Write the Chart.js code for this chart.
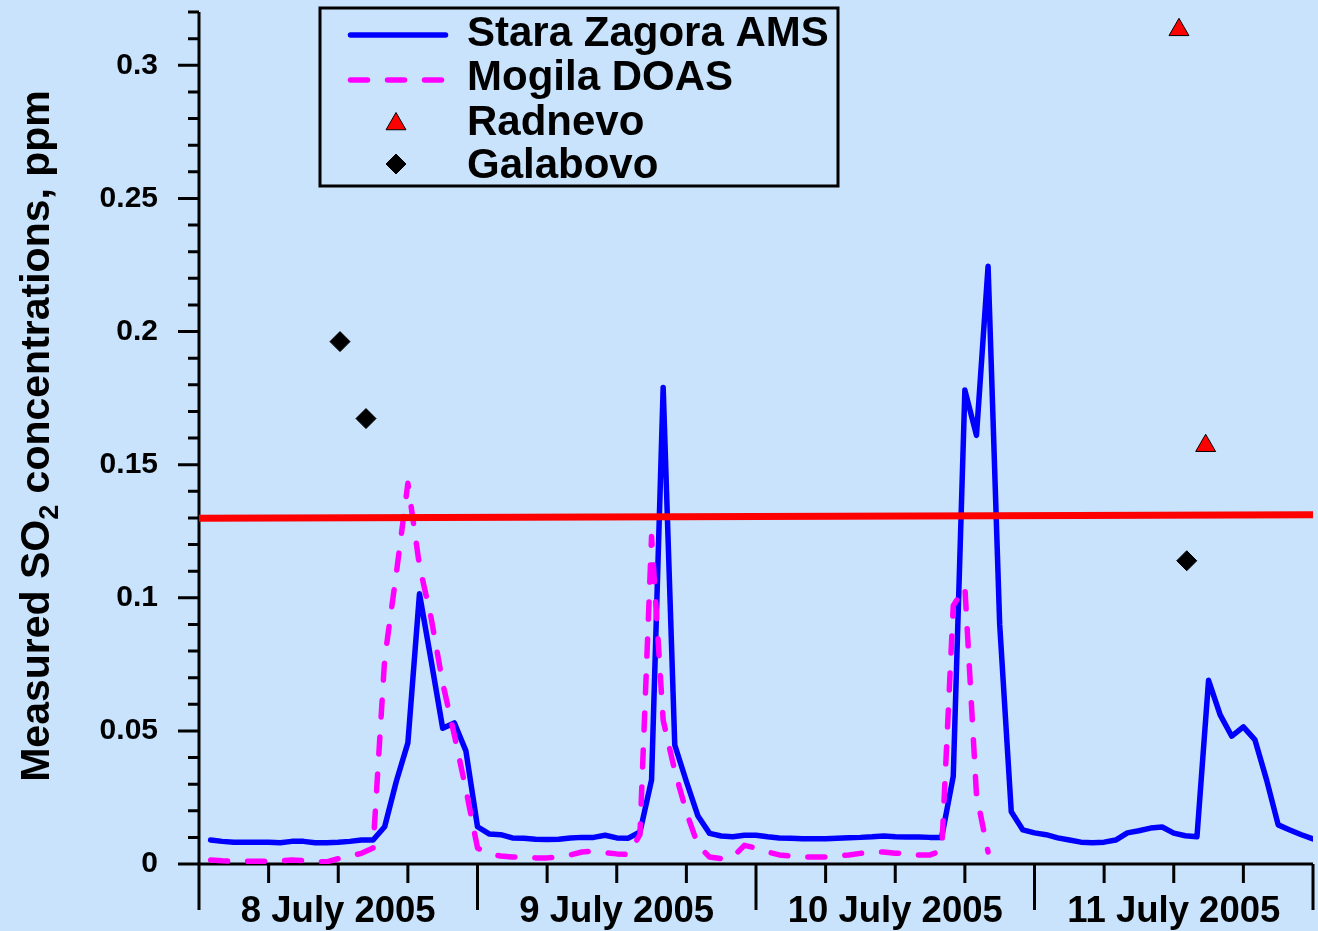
<!DOCTYPE html>
<html>
<head>
<meta charset="utf-8">
<script src="https://cdn.jsdelivr.net/npm/chart.js@4.4.0/dist/chart.umd.min.js"></script>
<style>
  html, body { margin: 0; padding: 0; background: #c9e3fc; overflow: hidden; }
  canvas { display: block; }
</style>
</head>
<body>
<canvas id="grafica" width="1318" height="931"></canvas>
<script>
// hours since 8 July 2005 00:00
const hours = [
  1, 2, 3, 4, 5, 6, 7, 8, 9, 10, 11, 12, 13, 14, 15, 16, 17, 18, 19, 20, 21, 22, 23, 24,
  25, 26, 27, 28, 29, 30, 31, 32, 33, 34, 35, 36, 37, 38, 39, 40, 41, 42, 43, 44, 45, 46, 47, 48,
  49, 50, 51, 52, 53, 54, 55, 56, 57, 58, 59, 60, 61, 62, 63, 64, 65, 66, 67, 68, 69, 70, 71, 72,
  73, 74, 75, 76, 77, 78, 79, 80, 81, 82, 83, 84, 85, 86, 87, 88, 89, 90, 91, 92, 93, 94, 95, 96
];

// Stara Zagora AMS, ppm
const staraZagora = [
  0.009, 0.0085, 0.0082, 0.0082, 0.0082, 0.0082, 0.008, 0.0085, 0.0085, 0.008, 0.008, 0.0082,
  0.0085, 0.009, 0.009, 0.014, 0.031, 0.0455, 0.1015, 0.0765, 0.051, 0.053, 0.0425, 0.014,
  0.0113, 0.011, 0.0098, 0.0097, 0.0093, 0.0092, 0.0093, 0.0098, 0.010, 0.010, 0.0108, 0.0098,
  0.0097, 0.012, 0.0316, 0.179, 0.0447, 0.031, 0.018, 0.0115, 0.0105, 0.0102, 0.0108, 0.0108,
  0.0102, 0.0098, 0.0097, 0.0095, 0.0095, 0.0095, 0.0097, 0.0099, 0.010, 0.0102, 0.0105, 0.0102,
  0.0101, 0.0101, 0.010, 0.010, 0.033, 0.178, 0.161, 0.2245, 0.09, 0.0196, 0.0128, 0.0117,
  0.011, 0.0098, 0.009, 0.0082, 0.008, 0.0082, 0.009, 0.0117, 0.0125, 0.0135, 0.0139, 0.0116,
  0.0106, 0.0102, 0.069, 0.056, 0.048, 0.0515, 0.0466, 0.0316, 0.0147, 0.0128, 0.011, 0.0094
];

// Mogila DOAS, ppm (no data after hour 68)
const mogila = [
  0.0015, 0.0012, 0.001, 0.001, 0.001, 0.001, 0.0012, 0.0015, 0.0013, 0.001, 0.0008, 0.002,
  0.003, 0.004, 0.006, 0.077, 0.109, 0.143, 0.112, 0.0925, 0.068, 0.0485, 0.028, 0.006,
  0.0037, 0.003, 0.0026, 0.0026, 0.0023, 0.0023, 0.0026, 0.0034, 0.0045, 0.0048, 0.0042, 0.0038,
  0.0036, 0.011, 0.123, 0.054, 0.035, 0.0195, 0.007, 0.0026, 0.002, 0.0026, 0.007, 0.006,
  0.0045, 0.0034, 0.003, 0.0026, 0.0026, 0.0026, 0.003, 0.0034, 0.004, 0.0045, 0.0045, 0.004,
  0.004, 0.0034, 0.0034, 0.005, 0.097, 0.104, 0.026, 0.0045
];

const radnevoX = [84.45, 86.75];
const radnevoY = [0.3133, 0.1571];

const galabovoX = [12.15, 14.39, 85.12];
const galabovoY = [0.1962, 0.1673, 0.1139];

// red reference line
const limiteX = [0, 96];
const limiteY = [0.1299, 0.1312];

const dayLabels = ['8 July 2005', '9 July 2005', '10 July 2005', '11 July 2005'];
const yLabels = ['0', '0.05', '0.1', '0.15', '0.2', '0.25', '0.3'];

const FONT = "'Liberation Sans', Arial, sans-serif";
const BG = '#c9e3fc';

function esMultiplo(v, paso) {
  const k = Math.round(v / paso);
  return Math.abs(v - k * paso) < 1e-6;
}

const fondo = {
  id: 'fondo',
  beforeDraw(chart) {
    const ctx = chart.ctx;
    ctx.save();
    ctx.fillStyle = BG;
    ctx.fillRect(0, 0, chart.width, chart.height);
    ctx.restore();
  }
};

// axis lines and major/minor tick marks
const ejes = {
  id: 'ejes',
  beforeDatasetsDraw(chart) {
    const {ctx, chartArea: a, scales: {x, y}} = chart;
    ctx.save();
    ctx.strokeStyle = '#000';
    ctx.lineWidth = 3;
    ctx.beginPath();
    ctx.moveTo(a.left, a.top);
    ctx.lineTo(a.left, a.bottom + 46);
    ctx.moveTo(a.left, a.bottom);
    ctx.lineTo(a.right, a.bottom);
    y.ticks.forEach(t => {
      const py = y.getPixelForValue(t.value);
      const len = esMultiplo(t.value, 0.05) ? 21 : 11;
      ctx.moveTo(a.left - len, py);
      ctx.lineTo(a.left, py);
    });
    x.ticks.forEach(t => {
      const px = x.getPixelForValue(t.value);
      const len = esMultiplo(t.value, 24) ? 46 : 19;
      ctx.moveTo(px, a.bottom);
      ctx.lineTo(px, a.bottom + len);
    });
    ctx.stroke();
    ctx.restore();
  }
};

// y title with subscript
const tituloY = {
  id: 'tituloY',
  afterDraw(chart) {
    const ctx = chart.ctx;
    const grande = 'bold 41px ' + FONT;
    const chica = 'bold 27px ' + FONT;
    const partes = [['Measured SO', grande, 0], ['2', chica, 9], [' concentrations, ppm', grande, 0]];
    ctx.save();
    ctx.translate(49, 436);
    ctx.rotate(-Math.PI / 2);
    ctx.fillStyle = '#000';
    ctx.textBaseline = 'alphabetic';
    let total = 0;
    partes.forEach(p => { ctx.font = p[1]; total += ctx.measureText(p[0]).width; });
    let cx = -total / 2;
    partes.forEach(p => {
      ctx.font = p[1];
      ctx.fillText(p[0], cx, p[2]);
      cx += ctx.measureText(p[0]).width;
    });
    ctx.restore();
  }
};

// boxed legend in the upper left
const leyenda = {
  id: 'leyenda',
  afterDraw(chart) {
    const ctx = chart.ctx;
    const simY = [35, 80, 124, 164];
    const textoY = [46, 90, 135, 178];
    ctx.save();
    ctx.fillStyle = BG;
    ctx.fillRect(320, 8, 518, 178);
    ctx.lineWidth = 3;
    ctx.strokeStyle = '#000';
    ctx.strokeRect(320, 8, 518, 178);

    const items = chart.data.datasets.filter(d => d.enLeyenda);
    items.forEach((d, i) => {
      const sy = simY[i];
      if (d.type === 'line') {
        ctx.save();
        ctx.strokeStyle = d.borderColor;
        ctx.lineWidth = d.borderWidth;
        ctx.lineCap = 'round';
        ctx.setLineDash(d.borderDash || []);
        ctx.beginPath();
        ctx.moveTo(350.5, sy);
        ctx.lineTo(d.borderDash ? 441.5 : 445.5, sy);
        ctx.stroke();
        ctx.restore();
      } else {
        ctx.save();
        ctx.fillStyle = d.backgroundColor;
        ctx.strokeStyle = d.borderColor;
        ctx.lineWidth = d.borderWidth;
        Chart.helpers.drawPoint(ctx, {
          pointStyle: d.pointStyle, radius: d.pointRadius, rotation: 0, borderWidth: d.borderWidth
        }, 396, sy);
        ctx.restore();
      }
      ctx.fillStyle = '#000';
      ctx.font = 'bold 42px ' + FONT;
      ctx.textBaseline = 'alphabetic';
      ctx.textAlign = 'left';
      ctx.fillText(d.label, 467, textoY[i]);
    });
    ctx.restore();
  }
};

const datasets = [
  {
    label: 'Stara Zagora AMS',
    type: 'line',
    data: staraZagora,
    borderColor: '#0000ff',
    borderWidth: 5.5,
    pointRadius: 0,
    tension: 0,
    borderJoinStyle: 'round',
    borderCapStyle: 'round',
    order: 3,
    enLeyenda: true
  },
  {
    label: 'Mogila DOAS',
    type: 'line',
    data: mogila,
    borderColor: '#ff00ff',
    borderWidth: 5.5,
    borderDash: [17, 20],
    borderJoinStyle: 'round',
    borderCapStyle: 'round',
    pointRadius: 0,
    tension: 0,
    order: 2,
    enLeyenda: true
  },
  {
    label: 'Radnevo',
    type: 'scatter',
    data: radnevoX.map((x, i) => ({x: x, y: radnevoY[i]})),
    pointStyle: 'triangle',
    pointRadius: 11.5,
    backgroundColor: '#ff0000',
    borderColor: '#000',
    borderWidth: 1,
    order: 0,
    enLeyenda: true
  },
  {
    label: 'Galabovo',
    type: 'scatter',
    data: galabovoX.map((x, i) => ({x: x, y: galabovoY[i]})),
    pointStyle: 'rectRot',
    pointRadius: 10,
    backgroundColor: '#000',
    borderColor: '#000',
    borderWidth: 1,
    order: 0,
    enLeyenda: true
  },
  {
    label: 'limite',
    type: 'line',
    data: limiteX.map((x, i) => ({x: x, y: limiteY[i]})),
    borderColor: '#ff0000',
    borderWidth: 7,
    borderCapStyle: 'round',
    pointRadius: 0,
    order: 1
  }
];

const ctx = document.getElementById('grafica').getContext('2d');
new Chart(ctx, {
  type: 'line',
  data: { labels: hours, datasets: datasets },
  options: {
    responsive: false,
    devicePixelRatio: 1,
    animation: false,
    events: [],
    layout: { autoPadding: false, padding: { top: 12, right: 5, left: 0, bottom: 0 } },
    scales: {
      x: {
        type: 'linear',
        min: 0,
        max: 96,
        border: { display: false },
        grid: { display: false, drawTicks: true, tickLength: 6 },
        ticks: {
          stepSize: 6,
          autoSkip: false,
          maxRotation: 0,
          padding: 20,
          color: '#000',
          font: { family: FONT, size: 36.5, weight: 'bold' },
          callback: v => (v % 24 === 12) ? dayLabels[Math.floor(v / 24)] : ''
        },
        afterFit: s => {
          s.height = 67;
          s.paddingLeft = 0;
          s.paddingRight = 0;
        }
      },
      y: {
        min: 0,
        max: 0.32,
        border: { display: false },
        grid: { display: false, drawTicks: true, tickLength: 21 },
        ticks: {
          stepSize: 0.01,
          maxTicksLimit: 40,
          autoSkip: false,
          padding: 20,
          color: '#000',
          font: { family: FONT, size: 30, weight: 'bold' },
          callback: v => esMultiplo(v, 0.05) ? yLabels[Math.round(v / 0.05)] : ''
        },
        afterFit: s => {
          s.width = 199;
          s.paddingTop = 0;
          s.paddingBottom = 0;
        }
      }
    },
    plugins: {
      legend: { display: false },
      tooltip: { enabled: false }
    }
  },
  plugins: [fondo, ejes, leyenda, tituloY]
});
</script>
</body>
</html>
